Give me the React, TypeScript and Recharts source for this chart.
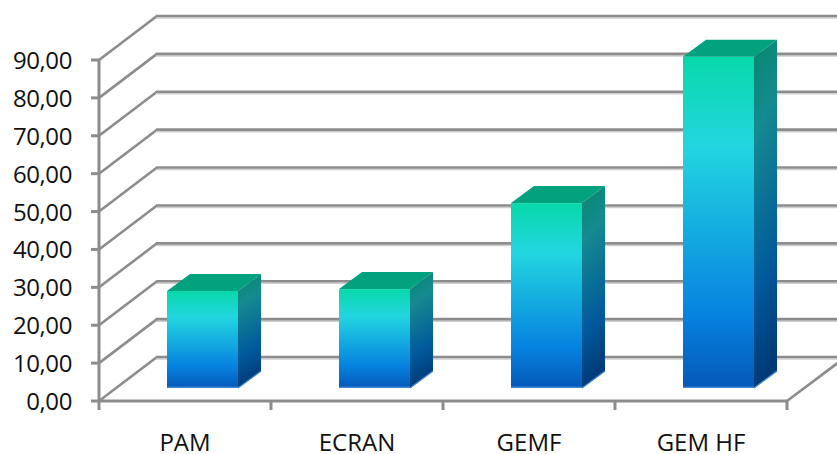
import React from 'react';
import { BarChart, Bar, XAxis, YAxis, CartesianGrid } from 'recharts';

const categories = ['PAM', 'ECRAN', 'GEMF', 'GEM HF'];
const values = [25.6, 26.1, 48.8, 87.4];
const yTicks = [0, 10, 20, 30, 40, 50, 60, 70, 80, 90];

const chartData = categories.map((name, i) => ({ name, value: values[i] }));

const GRID = '#8c8c8c';
const DEPTH_X = 58;
const DEPTH_Y = 44;
const BAR_SHIFT_X = 17.25;
const BAR_SHIFT_Y = 13;
const SIDE_X = 23;
const SIDE_Y = 17;
const HALF_BAND = 86;

const GridLine = (props: any) => {
  const { x1, x2, y1 } = props;
  const bx = x1 + DEPTH_X;
  const by = y1 - DEPTH_Y;
  return (
    <g>
      <line x1={x1} y1={y1} x2={bx} y2={by} stroke={GRID} strokeWidth={2.6} />
      <line x1={bx - 1} y1={by + 2} x2={837} y2={by + 2} stroke="#cfcfcf" strokeWidth={1.6} />
      <line x1={bx - 1} y1={by} x2={837} y2={by} stroke={GRID} strokeWidth={2.6} />
      {y1 > 395 ? <line x1={x2} y1={y1} x2={x2 + 52} y2={y1 - 39} stroke={GRID} strokeWidth={2.6} /> : null}
    </g>
  );
};

const XTick = (props: any) => {
  const { x, y, payload, index } = props;
  const axisY = y - 1;
  const isLast = index === categories.length - 1;
  return (
    <g>
      <line x1={x - HALF_BAND} y1={axisY} x2={x - HALF_BAND} y2={axisY + 10} stroke={GRID} strokeWidth={3} />
      {isLast ? <line x1={x + HALF_BAND} y1={axisY} x2={x + HALF_BAND} y2={axisY + 10} stroke={GRID} strokeWidth={3} /> : null}
      <text x={x} y={axisY + 51} textAnchor="middle" fill="#111" fontSize={24}>
        {payload.value}
      </text>
    </g>
  );
};

const YTick = (props: any) => {
  const { x, y, payload } = props;
  return (
    <text x={x} y={y + 9} textAnchor="end" fill="#111" fontSize={24} letterSpacing={-0.4}>
      {payload.value.toFixed(2).replace('.', ',')}
    </text>
  );
};

const Bar3D = (props: any) => {
  const { x, y, width, height } = props;
  const l = x + BAR_SHIFT_X;
  const t = y - BAR_SHIFT_Y;
  const r = l + width;
  const b = t + height;
  const top = `${l},${t} ${l + SIDE_X},${t - SIDE_Y} ${r + SIDE_X},${t - SIDE_Y} ${r},${t}`;
  const side = `${r},${t} ${r + SIDE_X},${t - SIDE_Y} ${r + SIDE_X},${b - SIDE_Y} ${r},${b}`;
  return (
    <g>
      <polygon points={top} fill="#03a27f" />
      <polygon points={side} fill="url(#sideGrad)" />
      <rect x={l} y={t} width={width} height={height} fill="url(#frontGrad)" />
      <rect x={l} y={b - 1.5} width={width} height={1.5} fill="#3f86d2" />
      <line x1={r} y1={b} x2={r + SIDE_X} y2={b - SIDE_Y} stroke="#3f86d2" strokeWidth={1.2} />
    </g>
  );
};

export default function App() {
  return (
    <div style={{ position: 'absolute', left: 0, top: 0, width: 837, height: 454, background: '#fff' }}>
      <BarChart
        width={837}
        height={454}
        data={chartData}
        margin={{ top: 60, right: 50, bottom: 0, left: 0 }}
        barCategoryGap={50.75}
        style={{ fontFamily: '"Open Sans", sans-serif' }}
      >
        <defs>
          <linearGradient id="frontGrad" x1="0" y1="0" x2="0" y2="1">
            <stop offset="0" stopColor="#08d8a9" />
            <stop offset="0.27" stopColor="#22d6e0" />
            <stop offset="0.78" stopColor="#0682e0" />
            <stop offset="1" stopColor="#0558b8" />
          </linearGradient>
          <linearGradient id="sideGrad" x1="0" y1="0" x2="0.12" y2="1">
            <stop offset="0" stopColor="#05886c" />
            <stop offset="0.27" stopColor="#158a90" />
            <stop offset="0.72" stopColor="#015a9c" />
            <stop offset="1" stopColor="#003a78" />
          </linearGradient>
        </defs>
        <CartesianGrid vertical={false} horizontal={(p: any) => <GridLine {...p} />} />
        <XAxis
          dataKey="name"
          height={53}
          interval={0}
          tickSize={0}
          tickMargin={0}
          axisLine={{ stroke: GRID, strokeWidth: 3 }}
          tickLine={false}
          tick={<XTick />}
        />
        <YAxis
          width={99}
          domain={[0, 90]}
          ticks={yTicks}
          interval={0}
          tickSize={8}
          tickMargin={19}
          axisLine={{ stroke: GRID, strokeWidth: 3 }}
          tickLine={{ stroke: GRID, strokeWidth: 3 }}
          tick={<YTick />}
        />
        <Bar dataKey="value" shape={<Bar3D />} isAnimationActive={false} />
      </BarChart>
    </div>
  );
}
